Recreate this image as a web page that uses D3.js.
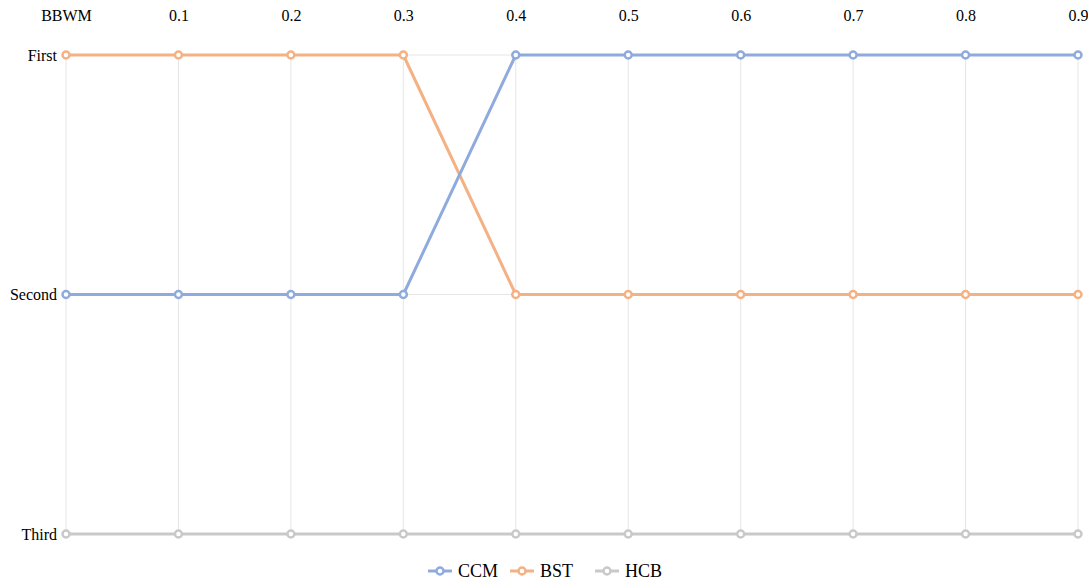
<!DOCTYPE html>
<html><head><meta charset="utf-8">
<script src="https://cdn.jsdelivr.net/npm/d3@7"></script>
<style>body{margin:0;background:#fff;}text{font-family:"Liberation Serif","Times New Roman",serif;fill:#000;}</style>
</head><body><svg id="c" width="1088" height="583"></svg>
<script>
const categories = ["BBWM","0.1","0.2","0.3","0.4","0.5","0.6","0.7","0.8","0.9"];
const rankLabels = ["First","Second","Third"];
const seriesNames = ["CCM","BST","HCB"];
const ccm = [2,2,2,2,1,1,1,1,1,1];
const bst = [1,1,1,1,2,2,2,2,2,2];
const hcb = [3,3,3,3,3,3,3,3,3,3];
const colors = ["#8FAADC","#F4B183","#C9C9C9"];

const svg = d3.select("#c");
const x = d3.scalePoint().domain(categories).range([66,1078]);
const y = d3.scaleLinear().domain([1,3]).range([55,534]);

// grid
const g = svg.append("g");
g.selectAll(".vg").data(categories).join("line")
  .attr("x1",d=>x(d)).attr("x2",d=>x(d)).attr("y1",y(1)).attr("y2",y(3))
  .attr("stroke","#E6E6E6").attr("stroke-width",1);
g.selectAll(".hg").data([1,2,3]).join("line")
  .attr("x1",x(categories[0])).attr("x2",x(categories[categories.length-1]))
  .attr("y1",d=>y(d)).attr("y2",d=>y(d))
  .attr("stroke","#E6E6E6").attr("stroke-width",1);

// top axis
const xa = svg.append("g").attr("transform","translate(0,21)")
  .call(d3.axisTop(x).tickSize(0).tickPadding(0));
xa.select(".domain").remove();
xa.selectAll("text").attr("font-family","Liberation Serif").attr("font-size",16).attr("fill","#000");

// left axis
const ya = svg.append("g").attr("transform","translate(57,0)")
  .call(d3.axisLeft(y).tickValues([1,2,3]).tickFormat(d=>rankLabels[d-1]).tickSize(0).tickPadding(0));
ya.select(".domain").remove();
ya.selectAll("text").attr("font-family","Liberation Serif").attr("font-size",16).attr("fill","#000");

const data = [ccm,bst,hcb];
const line = d3.line().x((d,i)=>x(categories[i])).y(d=>y(d));
[2,1,0].forEach(k=>{
  svg.append("path").datum(data[k]).attr("d",line).attr("fill","none")
    .attr("stroke",colors[k]).attr("stroke-width",3).attr("stroke-linejoin","round");
  svg.append("g").selectAll("circle").data(data[k]).join("circle")
    .attr("cx",(d,i)=>x(categories[i])).attr("cy",d=>y(d)).attr("r",3.5)
    .attr("fill","#fff").attr("stroke",colors[k]).attr("stroke-width",2.5);
});

// legend
const legX = [428,510,595];
const lg = svg.append("g");
seriesNames.forEach((n,k)=>{
  const lx = legX[k], ly = 571;
  lg.append("line").attr("x1",lx).attr("x2",lx+24).attr("y1",ly).attr("y2",ly)
    .attr("stroke",colors[k]).attr("stroke-width",3);
  lg.append("circle").attr("cx",lx+12).attr("cy",ly).attr("r",3.5)
    .attr("fill","#fff").attr("stroke",colors[k]).attr("stroke-width",2.5);
  lg.append("text").attr("x",lx+30).attr("y",ly).attr("dy","0.35em")
    .attr("font-size",18).text(n);
});
</script></body></html>
